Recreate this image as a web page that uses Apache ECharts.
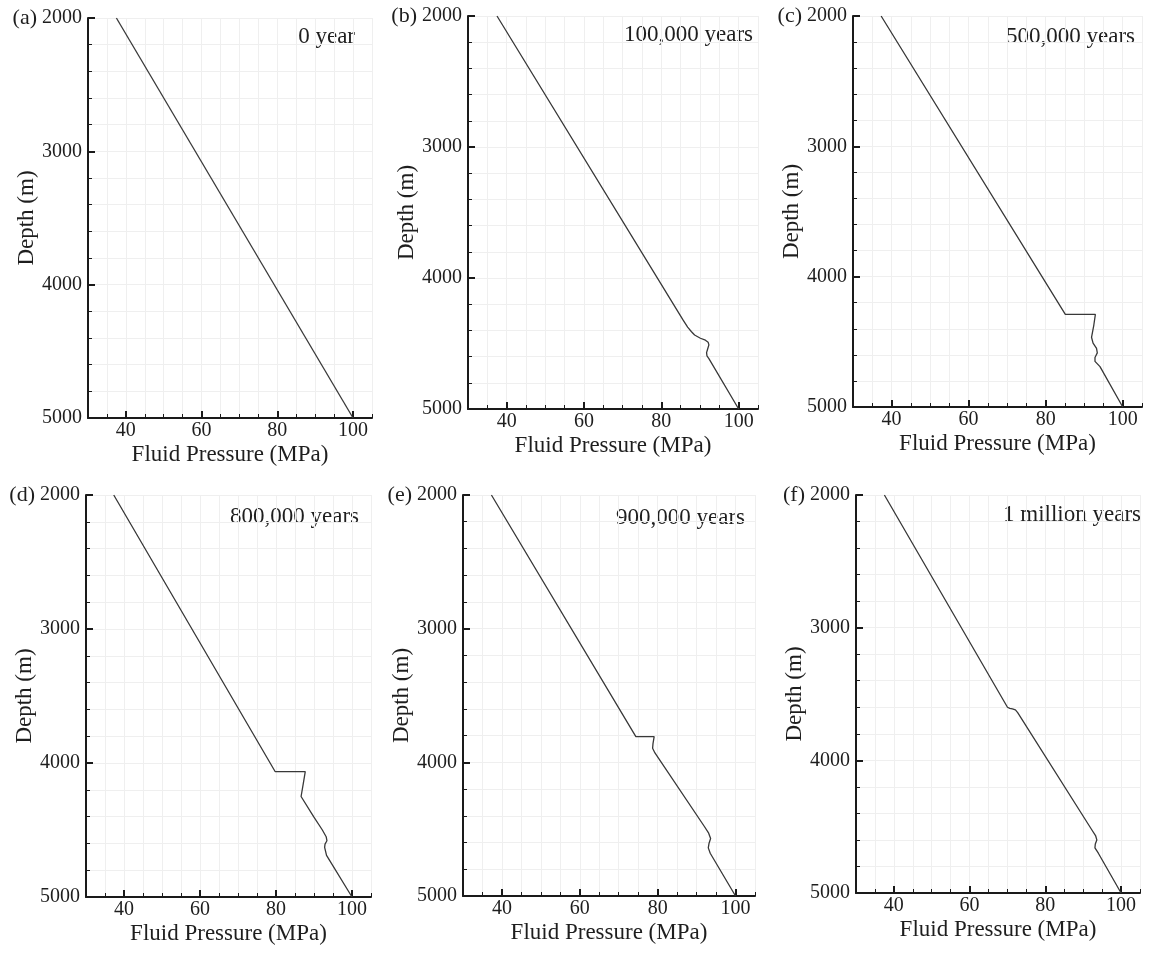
<!DOCTYPE html>
<html>
<head>
<meta charset="utf-8">
<script src="https://cdn.jsdelivr.net/npm/echarts@6/dist/echarts.min.js"></script>
<style>
html,body{margin:0;padding:0;background:#fff;}
#chart{width:1152px;height:956px;}
</style>
</head>
<body>
<div id="chart"></div>
<script>
// ---- data ----
const pressureTicks = [40, 60, 80, 100];
const depthTicks = [2000, 3000, 4000, 5000];
const panelLetters = ['(a)', '(b)', '(c)', '(d)', '(e)', '(f)'];
const panelTimes = ['0 year', '100,000 years', '500,000 years', '800,000 years', '900,000 years', '1 million years'];

// (a) 0 year
const pressA = [37.5, 100];
const depthA = [2000, 5000];
// (b) 100,000 years
const pressB = [37.5, 85.6, 86.8, 87.8, 88.6, 90.1, 91.4, 92.1, 92.3, 92.0, 91.7, 91.8, 92.3, 100];
const depthB = [2000, 4320, 4375, 4410, 4435, 4460, 4475, 4490, 4510, 4540, 4570, 4595, 4615, 5000];
// (c) 500,000 years
const pressC = [37.3, 85.1, 92.9, 92.5, 91.9, 92.3, 93.2, 93.4, 92.8, 92.8, 94.1, 100];
const depthC = [2000, 4290, 4290, 4371, 4465, 4510, 4550, 4585, 4620, 4650, 4690, 5000];
// (d) 800,000 years
const pressD = [37.3, 79.8, 87.7, 87.2, 86.6, 89.9, 92.2, 93.2, 93.4, 92.9, 92.8, 93.3, 100];
const depthD = [2000, 4065, 4065, 4150, 4250, 4400, 4500, 4550, 4580, 4605, 4630, 4690, 5000];
// (e) 900,000 years
const pressE = [37.3, 74.4, 79.1, 78.8, 78.7, 79.3, 92.0, 93.1, 93.6, 93.2, 93.0, 93.5, 100];
const depthE = [2000, 3808, 3808, 3860, 3895, 3930, 4480, 4530, 4570, 4605, 4640, 4680, 5000];
// (f) 1 million years
const pressF = [37.5, 70.0, 70.6, 71.3, 72.1, 72.7, 92.3, 93.3, 93.6, 93.2, 93.1, 94.0, 100];
const depthF = [2000, 3600, 3608, 3612, 3620, 3640, 4525, 4570, 4600, 4630, 4660, 4700, 5000];

const pressures = [pressA, pressB, pressC, pressD, pressE, pressF];
const depths = [depthA, depthB, depthC, depthD, depthE, depthF];

// ---- layout ----
const layouts = [
  {left: 88,  top: 18,  width: 284, height: 400},
  {left: 468, top: 16,  width: 290, height: 393},
  {left: 853, top: 16,  width: 289, height: 391},
  {left: 86,  top: 495, width: 285, height: 402},
  {left: 463, top: 495, width: 292, height: 401},
  {left: 856, top: 495, width: 284, height: 398}
];
const timePos = [[355, 37], [753, 35], [1135, 37], [359, 517], [745, 518], [1141, 515]];

const FONT = '"Liberation Serif", "DejaVu Serif", serif';
const TXT = '#1e1e1e';
const AX = '#1a1a1a';
const plain = v => String(v);

const grid = [], xAxis = [], yAxis = [], series = [], graphic = [];

layouts.forEach((g, i) => {
  grid.push({left: g.left, top: g.top, width: g.width, height: g.height, containLabel: false});
  xAxis.push({
    gridIndex: i, type: 'value', min: 30, max: 105, interval: 5, position: 'bottom',
    axisLine: {show: true, onZero: false, lineStyle: {color: AX, width: 2}},
    axisTick: {show: true, inside: true, length: 4, lineStyle: {color: AX, width: 1}},
    axisLabel: {show: true, customValues: pressureTicks, formatter: plain, margin: 3, fontSize: 20, fontFamily: FONT, color: TXT},
    splitLine: {show: true, lineStyle: {color: '#efefef', width: 1}},
    name: 'Fluid Pressure (MPa)', nameLocation: 'middle', nameGap: 25,
    nameTextStyle: {fontSize: 23, fontFamily: FONT, color: TXT}
  });
  xAxis.push({
    gridIndex: i, type: 'value', min: 30, max: 105, interval: 5, position: 'bottom',
    axisLine: {show: false, onZero: false},
    axisTick: {show: true, inside: true, length: 7, customValues: pressureTicks, lineStyle: {color: AX, width: 2}},
    axisLabel: {show: false},
    splitLine: {show: false}
  });
  yAxis.push({
    gridIndex: i, type: 'value', min: 2000, max: 5000, interval: 200, inverse: true, position: 'left',
    axisLine: {show: true, onZero: false, lineStyle: {color: AX, width: 2}},
    axisTick: {show: true, inside: true, length: 4, lineStyle: {color: AX, width: 1}},
    axisLabel: {show: true, customValues: depthTicks, formatter: plain, margin: 6, fontSize: 20, fontFamily: FONT, color: TXT},
    splitLine: {show: true, lineStyle: {color: '#efefef', width: 1}},
    name: 'Depth (m)', nameLocation: 'middle', nameGap: 50, nameRotate: 90,
    nameTextStyle: {fontSize: 23, fontFamily: FONT, color: TXT}
  });
  yAxis.push({
    gridIndex: i, type: 'value', min: 2000, max: 5000, interval: 200, inverse: true, position: 'left',
    axisLine: {show: false, onZero: false},
    axisTick: {show: true, inside: true, length: 7, customValues: depthTicks, lineStyle: {color: AX, width: 2}},
    axisLabel: {show: false},
    splitLine: {show: false}
  });
  series.push({
    type: 'line', xAxisIndex: 2 * i, yAxisIndex: 2 * i,
    data: pressures[i].map((p, k) => [p, depths[i][k]]),
    showSymbol: false, symbol: 'none', smooth: false,
    lineStyle: {color: '#383838', width: 1.3},
    animation: false
  });
  graphic.push({
    type: 'text', x: timePos[i][0], y: timePos[i][1],
    style: {text: panelTimes[i], font: '23px ' + FONT, fill: TXT, textAlign: 'right', textVerticalAlign: 'middle'}
  });
  graphic.push({
    type: 'text', x: g.left - 51, y: g.top,
    style: {text: panelLetters[i], font: '22px ' + FONT, fill: TXT, textAlign: 'right', textVerticalAlign: 'middle'}
  });
});

const chart = echarts.init(document.getElementById('chart'), null, {renderer: 'canvas'});
chart.setOption({
  backgroundColor: '#ffffff',
  animation: false,
  grid, xAxis, yAxis, series, graphic
});
</script>
</body>
</html>
